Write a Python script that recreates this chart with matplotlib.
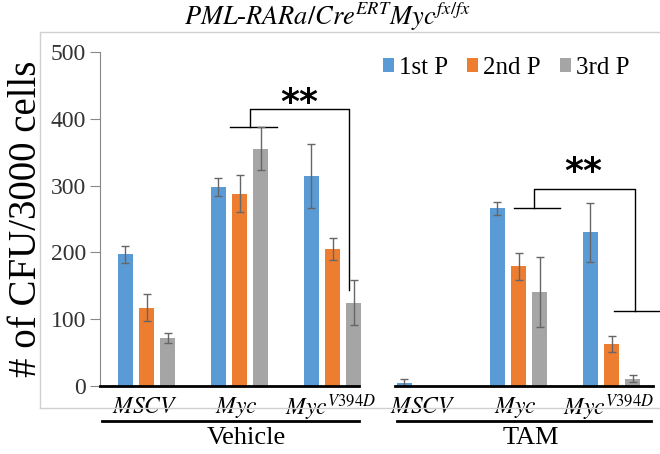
import numpy as np
import matplotlib
matplotlib.use('Agg')
import matplotlib.pyplot as plt
from matplotlib.lines import Line2D
from matplotlib.patches import Patch

plt.rcParams['font.family'] = 'serif'
plt.rcParams['font.serif'] = ['Liberation Serif', 'DejaVu Serif']
plt.rcParams['mathtext.fontset'] = 'stix'

categories = [r'$\mathit{MSCV}$', r'$\mathit{Myc}$', r'$\mathit{Myc}^{\mathit{V394D}}$',
              r'$\mathit{MSCV}$', r'$\mathit{Myc}$', r'$\mathit{Myc}^{\mathit{V394D}}$']
groups = ['Vehicle', 'TAM']
series = ['1st P', '2nd P', '3rd P']
p1 = [197, 298, 315, 5, 266, 230]
p2 = [117, 288, 205, 0, 179, 63]
p3 = [72, 355, 125, 0, 141, 11]
p1_err = [13, 13, 48, 5, 10, 44]
p2_err = [20, 28, 17, 0, 20, 12]
p3_err = [8, 32, 33, 0, 52, 5]

colors = ['#5B9BD5', '#ED7D31', '#A5A5A5']

fig = plt.figure(figsize=(6.6, 4.54), dpi=100)
ax = fig.add_axes([100/660, 68/454, 558/660, 334/454])

x = np.arange(len(categories))
w = 0.17
offs = [-0.226, 0, 0.226]
vals = [p1, p2, p3]
errs = [p1_err, p2_err, p3_err]
for i in range(3):
    v = np.array(vals[i])
    e = np.array(errs[i])
    m = v > 0
    ax.bar(x[m] + offs[i], v[m], w, color=colors[i], zorder=2)
    me = e > 0
    ax.errorbar(x[me] + offs[i], v[me], yerr=e[me], fmt='none',
                ecolor='#666666', elinewidth=1, capsize=3, capthick=1, zorder=3)

ax.set_xlim(-0.5, 5.5)
ax.set_ylim(0, 500)
ax.set_yticks([0, 100, 200, 300, 400, 500])
ax.set_yticklabels(['0', '100', '200', '300', '400', '500'], fontfamily='Liberation Serif')
ax.tick_params(axis='y', labelsize=17, direction='out', length=7, color='#888888', pad=3,
               labelcolor='#333333')
ax.set_xticks([])
for s in ['top', 'right', 'bottom']:
    ax.spines[s].set_visible(False)
ax.spines['left'].set_color('#888888')
ax.set_ylabel('# of CFU/3000 cells', fontsize=28, labelpad=4)

# baselines under the groups
ax.plot([-0.5, 2.28], [0, 0], color='black', lw=2, clip_on=False, zorder=4)
ax.plot([2.67, 5.45], [0, 0], color='black', lw=2, clip_on=False, zorder=4)

# category labels
trans = ax.get_xaxis_transform()
label_x = [-0.02, 0.97, 1.98, 2.97, 3.97, 4.97]
for i, c in enumerate(categories):
    ax.text(label_x[i], -0.065, c, transform=trans,
            ha='center', va='center', fontsize=17)
# group lines and labels
ax.plot([-0.48, 2.28], [-0.105, -0.105], color='black', lw=2, transform=trans, clip_on=False)
ax.plot([2.69, 5.43], [-0.105, -0.105], color='black', lw=2, transform=trans, clip_on=False)
ax.text(1.075, -0.155, groups[0], transform=trans, ha='center', va='center', fontsize=19)
ax.text(4.13, -0.155, groups[1], transform=trans, ha='center', va='center', fontsize=19)

# significance brackets
ax.plot([0.9, 1.4], [388, 388], color='black', lw=1)
ax.plot([1.11, 1.11, 2.18, 2.18], [388, 415, 415, 144], color='black', lw=1)
ax.text(1.64, 424, '**', ha='center', va='center', fontsize=26, fontweight='bold',
        fontfamily='DejaVu Sans')
ax.plot([3.95, 4.45], [266, 266], color='black', lw=1)
ax.plot([4.17, 4.17, 5.25, 5.25], [266, 295, 295, 112], color='black', lw=1)
ax.plot([5.03, 5.6], [112, 112], color='black', lw=1, clip_on=False)
ax.text(4.7, 320, '**', ha='center', va='center', fontsize=26, fontweight='bold',
        fontfamily='DejaVu Sans')

handles = [Patch(facecolor=c) for c in colors]
ax.legend(handles, series, ncol=3, frameon=False, fontsize=18,
          loc='center left', bbox_to_anchor=(383/660, 1 - 68/454),
          bbox_transform=fig.transFigure, borderpad=0, borderaxespad=0,
          handlelength=0.45, handleheight=0.45, handletextpad=0.2, columnspacing=0.75)

# chart border
fig.add_artist(Line2D([40/660, 1.0], [1 - 32/454, 1 - 32/454], color='#d0d0d0', lw=1))
fig.add_artist(Line2D([40/660, 40/660], [1 - 32/454, 1 - 408/454], color='#d0d0d0', lw=1))
fig.add_artist(Line2D([40/660, 1.0], [1 - 408/454, 1 - 408/454], color='#d0d0d0', lw=1))

fig.text(327/660, 1 - 17/454, r'$\mathit{PML}$-$\mathit{RARa/Cre}^{\mathit{ERT}}\mathit{Myc}^{\mathit{fx/fx}}$',
         ha='center', va='center', fontsize=19)

fig.savefig('out.png', dpi=100)
